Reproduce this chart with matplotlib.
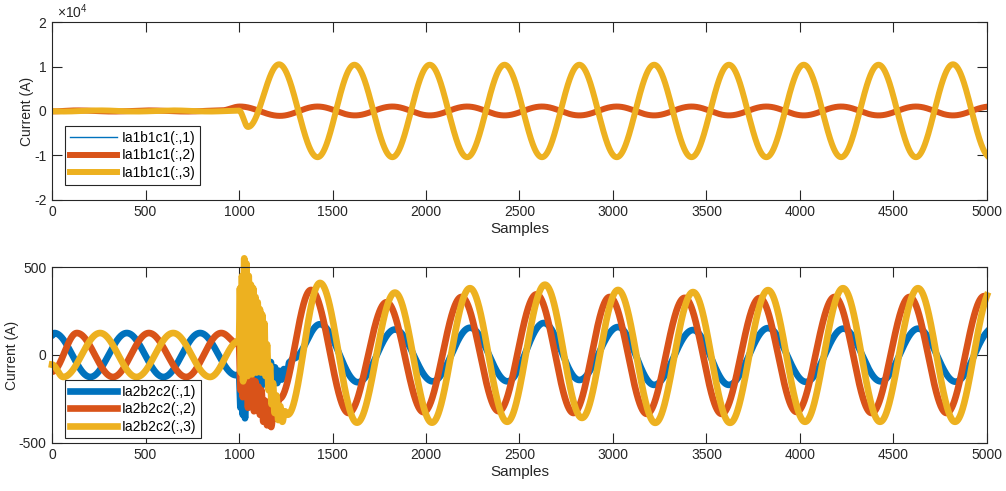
import numpy as np
import matplotlib
matplotlib.use("Agg")
import matplotlib.pyplot as plt

plt.rcParams['font.family'] = ['Liberation Sans', 'DejaVu Sans']
plt.rcParams['mathtext.default'] = 'regular'

BLUE = '#0072BD'
ORANGE = '#D95319'
YELLOW = '#EDB120'
GREY = '#262626'

N_SAMPLES = 5000

# turning points (sample, value) -- top panel Ia1b1c1
top1_x = [0, 12, 205, 400, 596, 792, 985, 1005, 1219, 1420, 1620, 1820, 2020, 2220, 2420,
          2620, 2820, 3020, 3220, 3420, 3620, 3820, 4020, 4220, 4420, 4620, 4818, 5018]
top1_y = [110, 125, -125, 125, -125, 125, -115, 1000, -1100, 1000, -1000, 1000, -1000,
          1000, -1000, 1000, -1000, 1000, -1000, 1000, -1000, 1000, -1000, 1000, -1000,
          1000, -1000, 1000]

top2_x = [0, 133, 326, 518, 718, 905, 1005, 1219, 1420, 1620, 1820, 2020, 2220, 2420,
          2620, 2820, 3020, 3220, 3420, 3620, 3820, 4020, 4220, 4420, 4620, 4818, 5018]
top2_y = [-95, 125, -125, 125, -125, 125, 1000, -1100, 1000, -1000, 1000, -1000, 1000,
          -1000, 1000, -1000, 1000, -1000, 1000, -1000, 1000, -1000, 1000, -1000, 1000,
          -1000, 1000]

top3_x = [0, 60, 257, 452, 648, 845, 1000, 1048, 1214, 1420, 1617, 1820, 2020, 2220, 2420,
          2620, 2820, 3020, 3220, 3420, 3620, 3820, 4020, 4220, 4420, 4620, 4818, 5018]
top3_y = [-55, -125, 125, -125, 125, -125, 80, -3600, 10500, -10400, 10400, -10400, 10400,
          -10400, 10400, -10400, 10400, -10400, 10400, -10400, 10400, -10400, 10400,
          -10400, 10400, -10400, 10500, -10400]

# bottom panel Ia2b2c2
bot1_x = [0, 12, 205, 400, 596, 792, 985,
          1000, 1008, 1014, 1020, 1026, 1032, 1040, 1048, 1056, 1064, 1072, 1080, 1090,
          1100, 1110, 1120, 1130, 1140, 1150, 1160, 1170, 1180, 1192, 1204, 1216, 1228,
          1240, 1255, 1270, 1290,
          1433, 1636, 1834, 2036, 2236, 2436, 2630, 2820, 3027, 3220, 3428, 3620, 3829,
          4032, 4232, 4432, 4632, 4832, 5032]
bot1_y = [110, 125, -125, 125, -125, 125, -115,
          -110, -300, -150, -340, -180, -360, -140, -300, -120, -260, -90, -230, -60,
          -200, -40, -180, -30, -150, -50, -120, -40, -140, -70, -160, -90, -140,
          -80, -110, -40, -20,
          175, -155, 145, -150, 155, -150, 182, -142, 159, -170, 142, -170, 153,
          -153, 150, -150, 150, -152, 150]

bot2_x = [0, 133, 326, 518, 718, 905,
          1000, 1008, 1014, 1020, 1026, 1032, 1040, 1048, 1056, 1064, 1072, 1080, 1088,
          1096, 1104, 1112, 1120, 1130, 1140, 1150, 1160, 1172, 1184, 1196, 1215,
          1385, 1586, 1789, 1987, 2190, 2389, 2591, 2789, 2982, 3181, 3383, 3581, 3784,
          3982, 4185, 4383, 4586, 4784, 4985]
bot2_y = [-95, 125, -125, 125, -125, 125,
          60, -200, -60, -240, -40, -230, -80, -300, -120, -280, -140, -320, -150,
          -300, -180, -340, -200, -380, -260, -400, -300, -410, -330, -360, -250,
          370, -330, 300, -325, 330, -320, 345, -330, 330, -335, 325, -335, 324,
          -324, 330, -330, 330, -330, 335]

bot3_x = [0, 60, 257, 452, 648, 845,
          1000, 1005, 1010, 1016, 1022, 1028, 1034, 1040, 1046, 1052, 1058, 1064, 1070,
          1076, 1082, 1088, 1094, 1100, 1106, 1112, 1118, 1124, 1130, 1136, 1142, 1150,
          1158, 1166, 1174, 1182, 1190, 1200, 1210, 1220, 1232, 1245, 1260,
          1433, 1631, 1834, 2032, 2235, 2434, 2636, 2834, 3027, 3226, 3428, 3626, 3829,
          4027, 4230, 4428, 4631, 4829, 5030]
bot3_y = [-55, -125, 125, -125, 125, -125,
          80, 380, -100, 450, -150, 550, -80, 520, -120, 450, -100, 400, -110,
          380, -90, 330, -100, 300, -90, 260, -100, 230, -60, 180, -120, 60,
          -200, -60, -280, -160, -330, -230, -370, -290, -380, -320, -340,
          410, -385, 355, -385, 380, -380, 400, -358, 370, -386, 358, -386, 369,
          -380, 380, -380, 380, -380, 380]

top_labels = ['Ia1b1c1(:,1)', 'Ia1b1c1(:,2)', 'Ia1b1c1(:,3)']
bot_labels = ['Ia2b2c2(:,1)', 'Ia2b2c2(:,2)', 'Ia2b2c2(:,3)']
x_ticks = list(range(0, 5001, 500))


def trace(px, py):
    # smooth half-cosine join between the read turning points
    t = np.arange(N_SAMPLES + 1)
    px = np.asarray(px, float)
    py = np.asarray(py, float)
    i = np.clip(np.searchsorted(px, t, side='right') - 1, 0, len(px) - 2)
    s = (t - px[i]) / (px[i + 1] - px[i])
    y = py[i] + (py[i + 1] - py[i]) * (1 - np.cos(np.pi * s)) / 2
    return t, y


def style(ax, ylim, yticks, ylabels):
    ax.set_xlim(0, N_SAMPLES)
    ax.set_ylim(*ylim)
    ax.set_xticks(x_ticks)
    ax.set_yticks(yticks)
    ax.set_yticklabels(ylabels)
    ax.tick_params(direction='in', top=True, right=True, length=7, width=0.8,
                   colors=GREY, labelsize=10, pad=4)
    for sp in ax.spines.values():
        sp.set_color(GREY)
        sp.set_linewidth(0.8)
    ax.set_xlabel('Samples', fontsize=11, color=GREY, labelpad=2)
    ax.set_ylabel('Current (A)', fontsize=10, color=GREY, labelpad=0)


def add_legend(ax, y0):
    leg = ax.legend(loc='lower left', bbox_to_anchor=(0.014, y0), fontsize=10,
                    fancybox=False, framealpha=1, edgecolor=GREY, handlelength=3.4,
                    labelspacing=0.25, borderpad=0.35, handletextpad=0.3,
                    borderaxespad=0)
    leg.get_frame().set_linewidth(0.8)


fig = plt.figure(figsize=(10.06, 4.91), dpi=100)
ax1 = fig.add_axes([0.0517, 0.593, 0.9294, 0.362])
ax2 = fig.add_axes([0.0517, 0.098, 0.9294, 0.358])

for (px, py), c, lw, lab in zip([(top1_x, top1_y), (top2_x, top2_y), (top3_x, top3_y)],
                                [BLUE, ORANGE, YELLOW], [1.0, 4.3, 4.3], top_labels):
    t, y = trace(px, py)
    ax1.plot(t, y, color=c, lw=lw, label=lab)
style(ax1, (-2e4, 2e4), [-2e4, -1e4, 0, 1e4, 2e4], ['-2', '-1', '0', '1', '2'])
ax1.text(0.005, 1.005, r'$\times10^{4}$', transform=ax1.transAxes, fontsize=10,
         color=GREY, va='bottom', ha='left')
add_legend(ax1, 0.085)

for (px, py), c, lab in zip([(bot1_x, bot1_y), (bot2_x, bot2_y), (bot3_x, bot3_y)],
                            [BLUE, ORANGE, YELLOW], bot_labels):
    t, y = trace(px, py)
    ax2.plot(t, y, color=c, lw=4.8, label=lab, clip_on=(c != YELLOW))
style(ax2, (-500, 500), [-500, 0, 500], ['-500', '0', '500'])
add_legend(ax2, 0.025)

fig.savefig('out.png', dpi=100, facecolor='white')
